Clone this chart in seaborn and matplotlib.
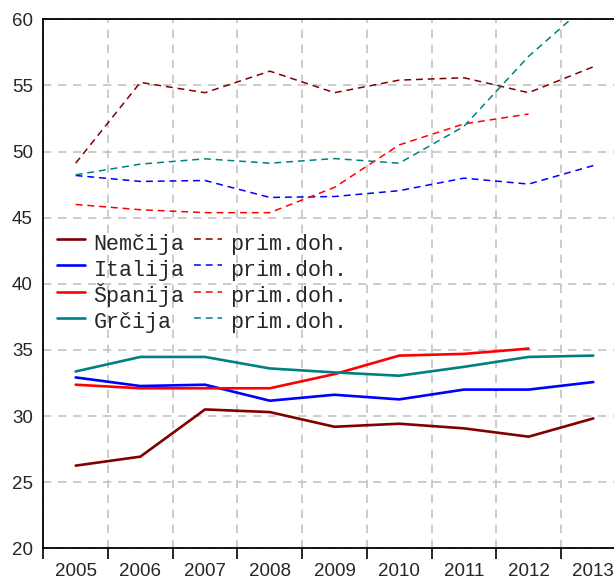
import numpy as np
import pandas as pd
import matplotlib
matplotlib.use("Agg")
import matplotlib.pyplot as plt
from matplotlib import font_manager
import seaborn as sns

# ===============================
# Data
# ===============================
years = [2005, 2006, 2007, 2008, 2009, 2010, 2011, 2012, 2013]

countries = ["Nemčija", "Italija", "Španija", "Grčija"]
colors = ["#800000", "#0000ff", "#ff0000", "#008080"]

nemcija = [26.25, 26.93, 30.5, 30.3, 29.19, 29.42, 29.07, 28.44, 29.82]
italija = [32.92, 32.27, 32.37, 31.16, 31.61, 31.26, 32.0, 32.0, 32.57]
spanija = [32.37, 32.1, 32.1, 32.1, 33.17, 34.57, 34.7, 35.1, np.nan]
grcija = [33.37, 34.47, 34.47, 33.6, 33.3, 33.05, 33.72, 34.47, 34.57]

nemcija_prim = [49.12, 55.23, 54.45, 56.08, 54.45, 55.4, 55.58, 54.45, 56.41]
italija_prim = [48.19, 47.74, 47.81, 46.53, 46.6, 47.04, 47.99, 47.54, 48.94]
spanija_prim = [46.0, 45.6, 45.38, 45.38, 47.29, 50.5, 52.09, 52.84, np.nan]
grcija_prim = [48.24, 49.05, 49.45, 49.12, 49.47, 49.12, 51.9, 57.2, 61.5]

prim_label = "prim.doh."

# ===============================
# Fonts
# ===============================
sns.set_theme(style="white")
installed = {f.name for f in font_manager.fontManager.ttflist}
tick_font = "Liberation Sans" if "Liberation Sans" in installed else "DejaVu Sans"
mono_font = "Liberation Mono" if "Liberation Mono" in installed else "DejaVu Sans Mono"
plt.rcParams["font.family"] = [tick_font, "DejaVu Sans"]

# ===============================
# Plot
# ===============================
fig = plt.figure(figsize=(6.14, 5.8), dpi=100)
ax = fig.add_axes([43.3 / 614, (580 - 548.3) / 580, 1 - 43.3 / 614, (548.3 - 19.3) / 580])

solid_series = [nemcija, italija, spanija, grcija]
dashed_series = [nemcija_prim, italija_prim, spanija_prim, grcija_prim]

handles = []
labels = []
for name, vals, col in zip(countries, solid_series, colors):
    df = pd.DataFrame({"leto": years, "vrednost": vals})
    sns.lineplot(data=df, x="leto", y="vrednost", color=col, lw=1.9, ax=ax)
    handles.append(ax.lines[-1])
    labels.append(name)

for vals, col in zip(dashed_series, colors):
    df = pd.DataFrame({"leto": years, "vrednost": vals})
    sns.lineplot(data=df, x="leto", y="vrednost", color=col, lw=1.1, ax=ax)
    ax.lines[-1].set_dashes((4.5, 3.2))
    handles.append(ax.lines[-1])
    labels.append(prim_label)

# axes (ticks first, set_ticks would widen the limits otherwise)
ax.set_xticks(years)
ax.set_xticks(np.arange(2004.5, 2014, 1.0), minor=True)
ax.set_yticks(np.arange(20, 61, 5))
ax.set_xlim(2004.5, 2013.32)
ax.set_ylim(20, 60)
ax.set_xlabel("")
ax.set_ylabel("")

ax.tick_params(axis="x", which="major", length=0, pad=10.5, labelsize=13.5)
ax.tick_params(axis="x", which="minor", length=8, width=1.2, color="black", direction="out", bottom=True)
ax.tick_params(axis="y", which="major", length=0, pad=7.5, labelsize=13.5)

grid_kw = dict(color="#c4c4c4", linestyle=(0, (5, 4)), lw=1.2)
ax.grid(False)
ax.grid(True, axis="x", which="minor", **grid_kw)
ax.grid(True, axis="y", which="major", **grid_kw)
ax.set_axisbelow(True)

for side in ["left", "bottom", "top"]:
    ax.spines[side].set_visible(True)
    ax.spines[side].set_color("black")
    ax.spines[side].set_linewidth(1.3)
ax.spines["right"].set_visible(False)

# tall handle boxes keep both legend columns on the same rows (Š is taller)
ax.legend(handles, labels, ncol=2, loc="upper left", bbox_to_anchor=(0.024, 0.604),
          frameon=False, prop={"family": mono_font, "size": 15.6},
          handlelength=1.3, handleheight=1.6, handletextpad=0.38, columnspacing=0.45,
          labelspacing=-0.08, borderpad=0, borderaxespad=0)

fig.savefig("out.png", dpi=100)
